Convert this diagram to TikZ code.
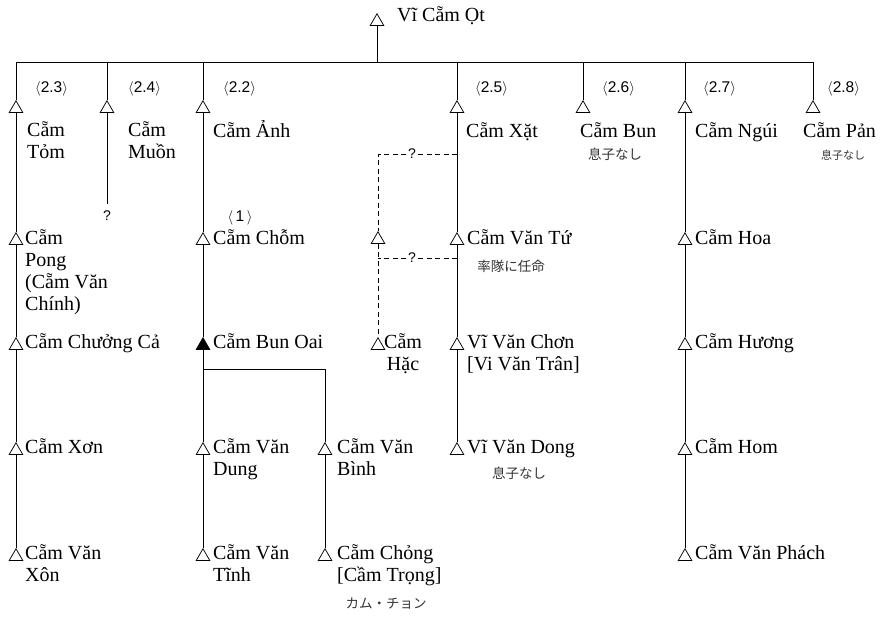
\documentclass[tikz,border=0pt]{standalone}
\usepackage{fontspec}
\setmainfont{Liberation Serif}
\newfontfamily\lab{Liberation Sans}
\newfontfamily\jp{Noto Sans CJK JP}
\usetikzlibrary{shapes.geometric}
\begin{document}
\begin{tikzpicture}[x=1pt,y=-1pt,
 tri/.style={regular polygon,regular polygon sides=3,draw,fill=white,inner sep=0pt,minimum size=15.5pt,anchor=north,line width=0.75pt},
 ftri/.style={tri,fill=black},
 person/.style={anchor=base west,inner sep=0pt,font=\fontsize{20}{22}\selectfont,align=left},
 tag/.style={anchor=base west,inner sep=0pt,font=\lab\fontsize{15.5}{17}\selectfont},
 note/.style={anchor=center,inner sep=0pt,text=black!80,font=\jp\fontsize{13.5}{15}\selectfont},
 ln/.style={line width=0.75pt},
 dl/.style={line width=0.75pt,dash pattern=on 5pt off 3.5pt},
 q/.style={font=\lab\fontsize{14}{16}\selectfont,fill=white,inner sep=1.5pt}
]
\useasboundingbox (0,0) rectangle (886,619);

% top
\node[tri] (t0) at (377,13) {};
\node[person] (p0) at (397,21) {Vĩ Cẵm Ọt};
\coordinate (bt) at (377,62);
\coordinate (b1) at (16,62);
\coordinate (b2) at (107,62);
\coordinate (b3) at (203,62);
\coordinate (b5) at (457,62);
\coordinate (b6) at (583,62);
\coordinate (b7) at (685,62);
\coordinate (b8) at (813,62);
\draw[ln] (t0.south) -- (bt);
\draw[ln] (b1) -- (b8);

% generation 2
\node[tri] (t23) at (16,100) {};
\node[tri] (t24) at (107,100) {};
\node[tri] (t22) at (203,100) {};
\node[tri] (t25) at (457,100) {};
\node[tri] (t26) at (583,100) {};
\node[tri] (t27) at (685,100) {};
\node[tri] (t28) at (813,100) {};
\foreach \b/\t in {b1/t23,b2/t24,b3/t22,b5/t25,b6/t26,b7/t27,b8/t28}
  \draw[ln] (\b) -- (\t.north);

\node[tag] (l23) at (35,92) {$\langle$2.3$\rangle$};
\node[tag] (l24) at (128,92) {$\langle$2.4$\rangle$};
\node[tag] (l22) at (223,92) {$\langle$2.2$\rangle$};
\node[tag] (l25) at (475,92) {$\langle$2.5$\rangle$};
\node[tag] (l26) at (602,92) {$\langle$2.6$\rangle$};
\node[tag] (l27) at (703,92) {$\langle$2.7$\rangle$};
\node[tag] (l28) at (827,92) {$\langle$2.8$\rangle$};

% (base anchor of a multi-line node = baseline of its last line)
\node[person] (pTom) at (27,158) {Cẵm\\Tỏm};
\node[person] (pMuon) at (128,158) {Cẵm\\Muồn};
\node[person] (pAnh) at (213,137) {Cẵm Ảnh};
\node[person] (pXat) at (466,137) {Cẵm Xặt};
\node[person] (pBun) at (580,137) {Cẵm Bun};
\node[person] (pNgui) at (695,137) {Cẵm Ngúi};
\node[person] (pPan) at (803,137) {Cẵm Pản};
\node[note] (nBun) at (615,154) {息子なし};
\node[note,font=\jp\fontsize{11}{13}\selectfont] (nPan) at (843,155) {息子なし};

% generation 3
\node[tri] (tPong) at (16,232) {};
\node[tri] (tChom) at (203,232) {};
\node[tri] (tDash) at (378,231) {};
\node[tri] (tTu) at (457,232) {};
\node[tri] (tHoa) at (685,232) {};
\coordinate (e24) at (107,204);
\node[q,fill=none] (q24) at (107,216) {?};
\draw[ln] (t24.south) -- (e24);

\node[person] (pPong) at (25,310) {Cẵm\\Pong\\(Cẵm Văn\\Chính)};
\node[person] (pChom) at (213,244) {Cẵm Chỗm};
\node[tag,anchor=center] (l1) at (240,218) {$\langle$\,1\,$\rangle$};
\node[person] (pTu) at (467,244) {Cẵm Văn Tứ};
\node[note] (nTu) at (511,266) {率隊に任命};
\node[person] (pHoa) at (695,244) {Cẵm Hoa};

% generation 4
\node[tri] (tChuong) at (16,337) {};
\node[ftri] (tOai) at (203,337) {};
\node[tri] (tHac) at (378,337) {};
\node[tri] (tChon) at (457,337) {};
\node[tri] (tHuong) at (685,337) {};
\node[person] (pChuong) at (25,348) {Cẵm Chưởng Cả};
\node[person] (pOai) at (213,348) {Cẵm Bun Oai};
\node[person,align=center] (pHac) at (384,370) {Cẵm\\Hặc};
\node[person] (pChon) at (467,370) {Vĩ Văn Chơn\\{[}Vi Văn Trân{]}};
\node[person] (pHuong) at (695,348) {Cẵm Hương};

% generation 5
\node[tri] (tXon1) at (16,442) {};
\node[tri] (tDung) at (203,442) {};
\node[tri] (tBinh) at (325,442) {};
\node[tri] (tDong) at (457,442) {};
\node[tri] (tHom) at (685,442) {};
\node[person] (pXon1) at (25,453) {Cẵm Xơn};
\node[person] (pDung) at (213,475) {Cẵm Văn\\Dung};
\node[person] (pBinh) at (337,475) {Cẵm Văn\\Bình};
\node[person] (pDong) at (467,453) {Vĩ Văn Dong};
\node[note] (nDong) at (519,473) {息子なし};
\node[person] (pHom) at (695,453) {Cẵm Hom};

% generation 6
\node[tri] (tXon2) at (16,548) {};
\node[tri] (tTinh) at (203,548) {};
\node[tri] (tChong) at (325,548) {};
\node[tri] (tPhach) at (685,548) {};
\node[person] (pXon2) at (25,581) {Cẵm Văn\\Xôn};
\node[person] (pTinh) at (213,581) {Cẵm Văn\\Tĩnh};
\node[person] (pChong) at (337,581) {Cẵm Chỏng\\{[}Cầm Trọng{]}};
\node[note] (nChong) at (386,604) {カム・チョン};
\node[person] (pPhach) at (695,559) {Cẵm Văn Phách};

% connectors
\foreach \a/\b in {t23/tPong,tPong/tChuong,tChuong/tXon1,tXon1/tXon2,
  t22/tChom,tChom/tOai,tOai/tDung,tDung/tTinh,
  t25/tTu,tTu/tChon,tChon/tDong,
  t27/tHoa,tHoa/tHuong,tHuong/tHom,tHom/tPhach,
  tBinh/tChong}
  \draw[ln] (\a.south) -- (\b.north);
\coordinate (j1) at (203,369);
\coordinate (j2) at (325,369);
\draw[ln] (j1) -- (j2) -- (tBinh.north);

% dashed links
\coordinate (d1) at (457,154);
\coordinate (d2) at (378,154);
\coordinate (d3) at (457,258);
\coordinate (d4) at (378,258);
\draw[dl] (d1) -- (d2) -- (tDash.north);
\draw[dl] (tDash.south) -- (tHac.north);
\draw[dl] (d3) -- (d4);
\node[q] (q1) at (412,154) {?};
\node[q] (q2) at (412,258) {?};
\end{tikzpicture}
\end{document}
